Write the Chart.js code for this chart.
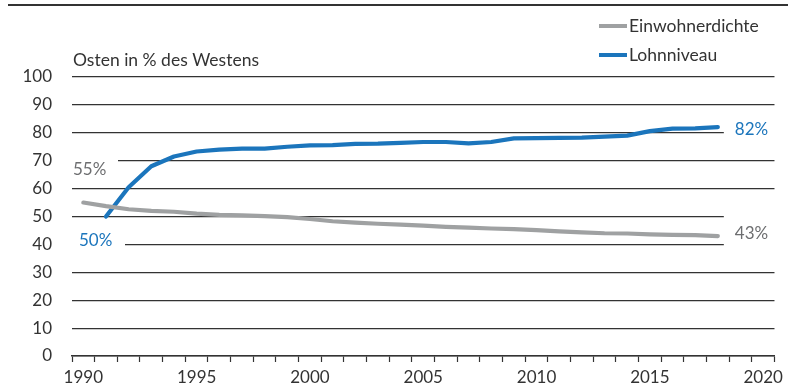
<!DOCTYPE html>
<html>
<head>
<meta charset="utf-8">
<script src="https://cdn.jsdelivr.net/npm/chart.js@4/dist/chart.umd.min.js"></script>
<style>
  html, body { margin: 0; padding: 0; background: #fff; }
  #wrap { width: 788px; height: 389px; position: relative; }
</style>
</head>
<body>
<div id="wrap"><canvas id="chart"></canvas></div>
<script>
// Osten in % des Westens, 1990-2020
const years = ['1990','1991','1992','1993','1994','1995','1996','1997','1998','1999',
               '2000','2001','2002','2003','2004','2005','2006','2007','2008','2009',
               '2010','2011','2012','2013','2014','2015','2016','2017','2018','2019','2020'];
const einwohnerdichte = [55, 53.7, 52.6, 52, 51.7, 51, 50.6, 50.4, 50.1, 49.8,
                         49.1, 48.3, 47.8, 47.4, 47.1, 46.7, 46.3, 46, 45.7, 45.5,
                         45.1, 44.7, 44.3, 44, 43.9, 43.6, 43.4, 43.3, 43, null, null];
const lohnniveau = [null, 50, 60.5, 68, 71.5, 73.3, 74, 74.3, 74.3, 75,
                    75.5, 75.6, 76, 76.1, 76.4, 76.7, 76.7, 76.2, 76.7, 78,
                    78.1, 78.2, 78.3, 78.6, 79, 80.6, 81.5, 81.6, 82, null, null];
const seriesNames = ['Einwohnerdichte', 'Lohnniveau'];
const yTicks = [0, 10, 20, 30, 40, 50, 60, 70, 80, 90, 100];
const axisTitle = 'Osten in % des Westens';

const GRAY = '#9fa1a2';
const BLUE = '#1b75bc';
const GRAY_TXT = '#6d6e70';
const INK = '#333333';
const FONT = 'Lato, sans-serif';

const decor = {
  id: 'decor',
  beforeDatasetsDraw(chart) {
    const { ctx, chartArea: a, scales: { x, y } } = chart;
    const x18 = x.getPixelForValue(28);
    ctx.save();
    ctx.fillStyle = '#fff';
    // white boxes behind the end labels, cutting the grid lines
    ctx.fillRect(a.left - 1, y.getPixelForValue(71), 47, y.getPixelForValue(63) - y.getPixelForValue(71));
    ctx.fillRect(a.left - 1, y.getPixelForValue(45), 54, y.getPixelForValue(37) - y.getPixelForValue(45));
    ctx.fillRect(x18 + 6, y.getPixelForValue(85), a.right - x18, y.getPixelForValue(76) - y.getPixelForValue(85));
    ctx.fillRect(x18 + 6, y.getPixelForValue(53), a.right - x18, y.getPixelForValue(37) - y.getPixelForValue(53));
    ctx.restore();
  },
  afterDraw(chart) {
    const { ctx, chartArea: a, scales: { x, y } } = chart;
    const x18 = x.getPixelForValue(28);
    ctx.save();
    // top rule
    ctx.strokeStyle = INK;
    ctx.lineWidth = 2;
    ctx.beginPath();
    ctx.moveTo(8, 5); ctx.lineTo(788, 5);
    ctx.stroke();

    ctx.font = '17.5px ' + FONT;
    ctx.textBaseline = 'middle';
    ctx.textAlign = 'left';
    // axis title
    ctx.fillStyle = INK;
    ctx.fillText(axisTitle, a.left + 1, 60);

    // legend
    const legendColors = [GRAY, BLUE];
    seriesNames.forEach((name, i) => {
      const ly = 26 + i * 29;
      ctx.strokeStyle = legendColors[i];
      ctx.lineWidth = 4;
      ctx.beginPath();
      ctx.moveTo(599, ly); ctx.lineTo(627, ly);
      ctx.stroke();
      ctx.fillStyle = INK;
      ctx.fillText(name, 629, ly);
    });

    // end labels
    ctx.font = '17px ' + FONT;
    ctx.fillStyle = GRAY_TXT;
    ctx.fillText(einwohnerdichte[0] + '%', a.left + 1, y.getPixelForValue(66.7));
    ctx.fillText(einwohnerdichte[28] + '%', x18 + 17, y.getPixelForValue(44));
    ctx.fillStyle = BLUE;
    ctx.fillText(lohnniveau[1] + '%', a.left + 7, y.getPixelForValue(41.3));
    ctx.fillText(lohnniveau[28] + '%', x18 + 17, y.getPixelForValue(81));
    ctx.restore();
  }
};

new Chart(document.getElementById('chart').getContext('2d'), {
  type: 'line',
  data: {
    labels: years,
    datasets: [
      { label: seriesNames[0], data: einwohnerdichte, borderColor: GRAY, borderWidth: 4.2,
        pointRadius: 0, tension: 0, borderCapStyle: 'round', borderJoinStyle: 'round' },
      { label: seriesNames[1], data: lohnniveau, borderColor: BLUE, borderWidth: 4.2,
        pointRadius: 0, tension: 0, borderCapStyle: 'round', borderJoinStyle: 'round' }
    ]
  },
  options: {
    responsive: true,
    maintainAspectRatio: false,
    animation: false,
    events: [],
    layout: { padding: { top: 77, right: 8, left: 0, bottom: 0 } },
    plugins: { legend: { display: false }, tooltip: { enabled: false } },
    scales: {
      x: {
        type: 'category',
        offset: true,
        grid: { offset: true, drawOnChartArea: false, drawTicks: true, tickLength: 6, tickColor: INK, tickWidth: 1.2 },
        border: { display: true, color: INK, width: 1.5 },
        ticks: {
          autoSkip: false, maxRotation: 0, padding: 5, color: INK,
          font: { family: FONT, size: 17 },
          callback: function(v, i) { const t = this.getLabelForValue(v); return (+t) % 5 === 0 ? t : ''; }
        },
        afterFit: s => { s.height = 33; }
      },
      y: {
        min: 0, max: 100,
        afterBuildTicks: s => { s.ticks = yTicks.map(v => ({ value: v })); },
        grid: { color: INK, lineWidth: 1.2, drawTicks: false },
        border: { display: false },
        ticks: { padding: 20, color: INK, font: { family: FONT, size: 17 } },
        afterFit: s => { s.width = 72; }
      }
    }
  },
  plugins: [decor]
});
</script>
</body>
</html>
